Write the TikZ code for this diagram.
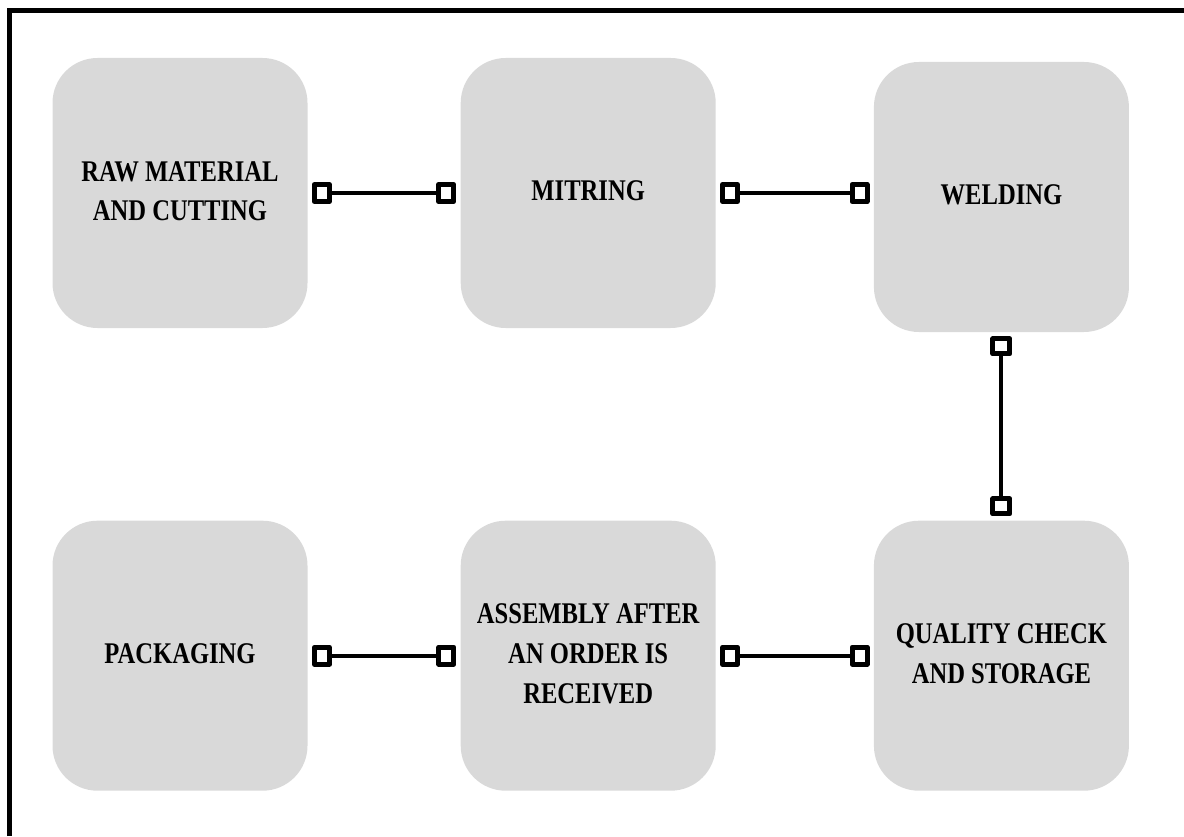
\documentclass[tikz,border=0pt]{standalone}
\usepackage{fontspec}
\setmainfont{Liberation Serif}
\usetikzlibrary{positioning, arrows.meta}
\definecolor{boxgray}{RGB}{217,217,217}
\newcommand{\tall}[1]{\scalebox{1}[1.22]{\begin{tabular}{@{}c@{}}#1\end{tabular}}}
\tikzstyle{stage}=[rectangle,rounded corners=0.9cm,minimum width=5.1cm,minimum height=5.4cm,text centered,align=center,fill=boxgray,font=\fontsize{14}{18.6}\selectfont\bfseries]
\tikzstyle{link}=[line width=0.08cm,{Square[open,round,length=0.4cm,width=0.44cm,line width=0.1cm]}-{Square[open,round,length=0.4cm,width=0.44cm,line width=0.1cm]},shorten <=0.08cm,shorten >=0.08cm]

\begin{document}
\begin{tikzpicture}[node distance = 3.05cm]
\useasboundingbox (0,0) rectangle (23.68,-16.72);
\draw[line width=0.1cm] (0.19,-16.72) -- (0.19,-0.21) -- (23.68,-0.21);

\node (raw) [stage] at (3.6,-3.86) {\tall{RAW MATERIAL\\AND CUTTING}};
\node (mitring) [stage,right=of raw] {\tall{MITRING}};
\node (welding) [stage,right=3.15cm of mitring,yshift=-0.08cm] {\tall{WELDING}};
\node (pack) [stage,below=3.84cm of raw] {\tall{PACKAGING}};
\node (assembly) [stage,right=of pack] {\tall{ASSEMBLY AFTER\\AN ORDER IS\\RECEIVED}};
\node (quality) [stage,right=3.15cm of assembly] {\tall{QUALITY CHECK\\AND STORAGE}};

\draw[link] (raw) -- (mitring);
\draw[link] (mitring) -- (mitring -| welding.west);
\draw[link] (welding) -- (quality);
\draw[link] (assembly) -- (quality);
\draw[link] (pack) -- (assembly);
\end{tikzpicture}
\end{document}
